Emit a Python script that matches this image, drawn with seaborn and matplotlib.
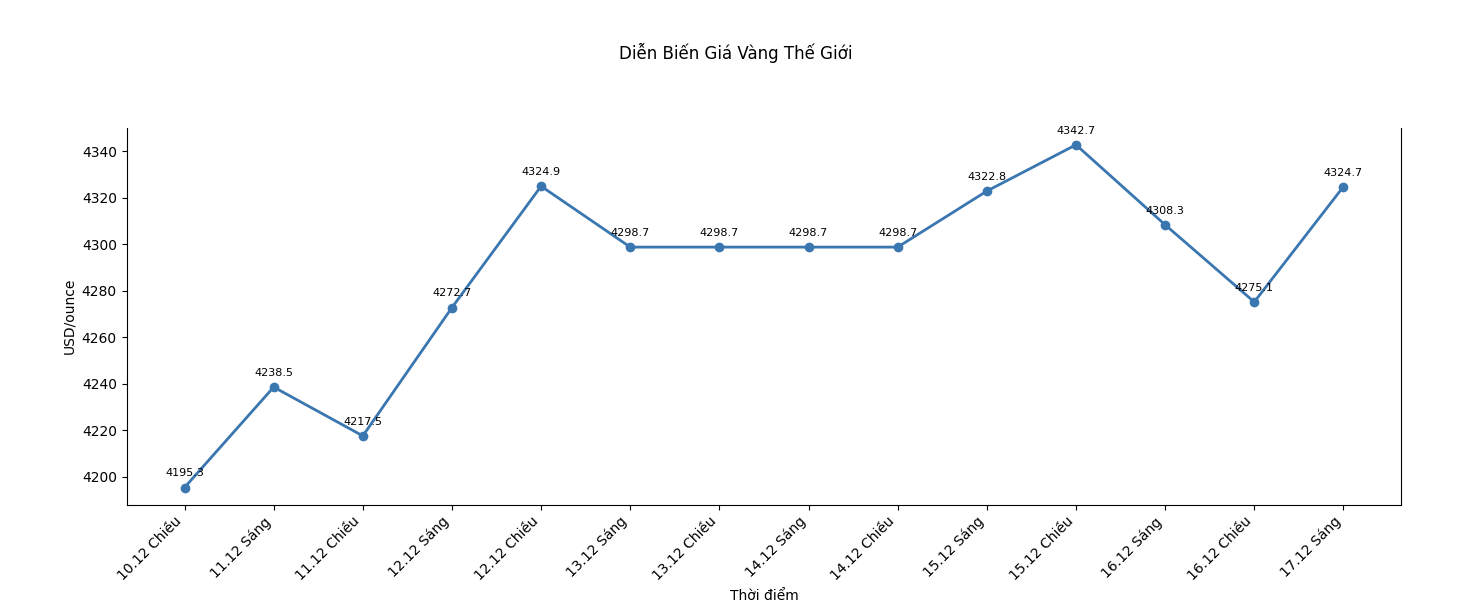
import pandas as pd
import matplotlib.pyplot as plt
import seaborn as sns

labels = ["10.12 Chiều", "11.12 Sáng", "11.12 Chiều", "12.12 Sáng", "12.12 Chiều",
          "13.12 Sáng", "13.12 Chiều", "14.12 Sáng", "14.12 Chiều", "15.12 Sáng",
          "15.12 Chiều", "16.12 Sáng", "16.12 Chiều", "17.12 Sáng"]
prices = [4195.3, 4238.5, 4217.5, 4272.7, 4324.9, 4298.7, 4298.7, 4298.7,
          4298.7, 4322.8, 4342.7, 4308.3, 4275.1, 4324.7]

df = pd.DataFrame({"Thời điểm": labels, "USD/ounce": prices})

fig, ax = plt.subplots(figsize=(14.72, 6.08), dpi=100)
sns.lineplot(data=df, x="Thời điểm", y="USD/ounce", ax=ax, color="#3a76b0",
             linewidth=2, marker="o", markersize=7, markeredgewidth=0, sort=False)

# value labels above each point
for i, v in enumerate(prices):
    ax.annotate(f"{v}", (i, v), textcoords="offset points", xytext=(0, 8),
                ha="center", fontsize=8)

ax.spines["top"].set_visible(False)
plt.setp(ax.get_xticklabels(), rotation=45, ha="right")
fig.suptitle("Diễn Biến Giá Vàng Thế Giới", y=0.93)
fig.subplots_adjust(left=0.086, right=0.952, top=0.79, bottom=0.17)
fig.savefig("out.png")
